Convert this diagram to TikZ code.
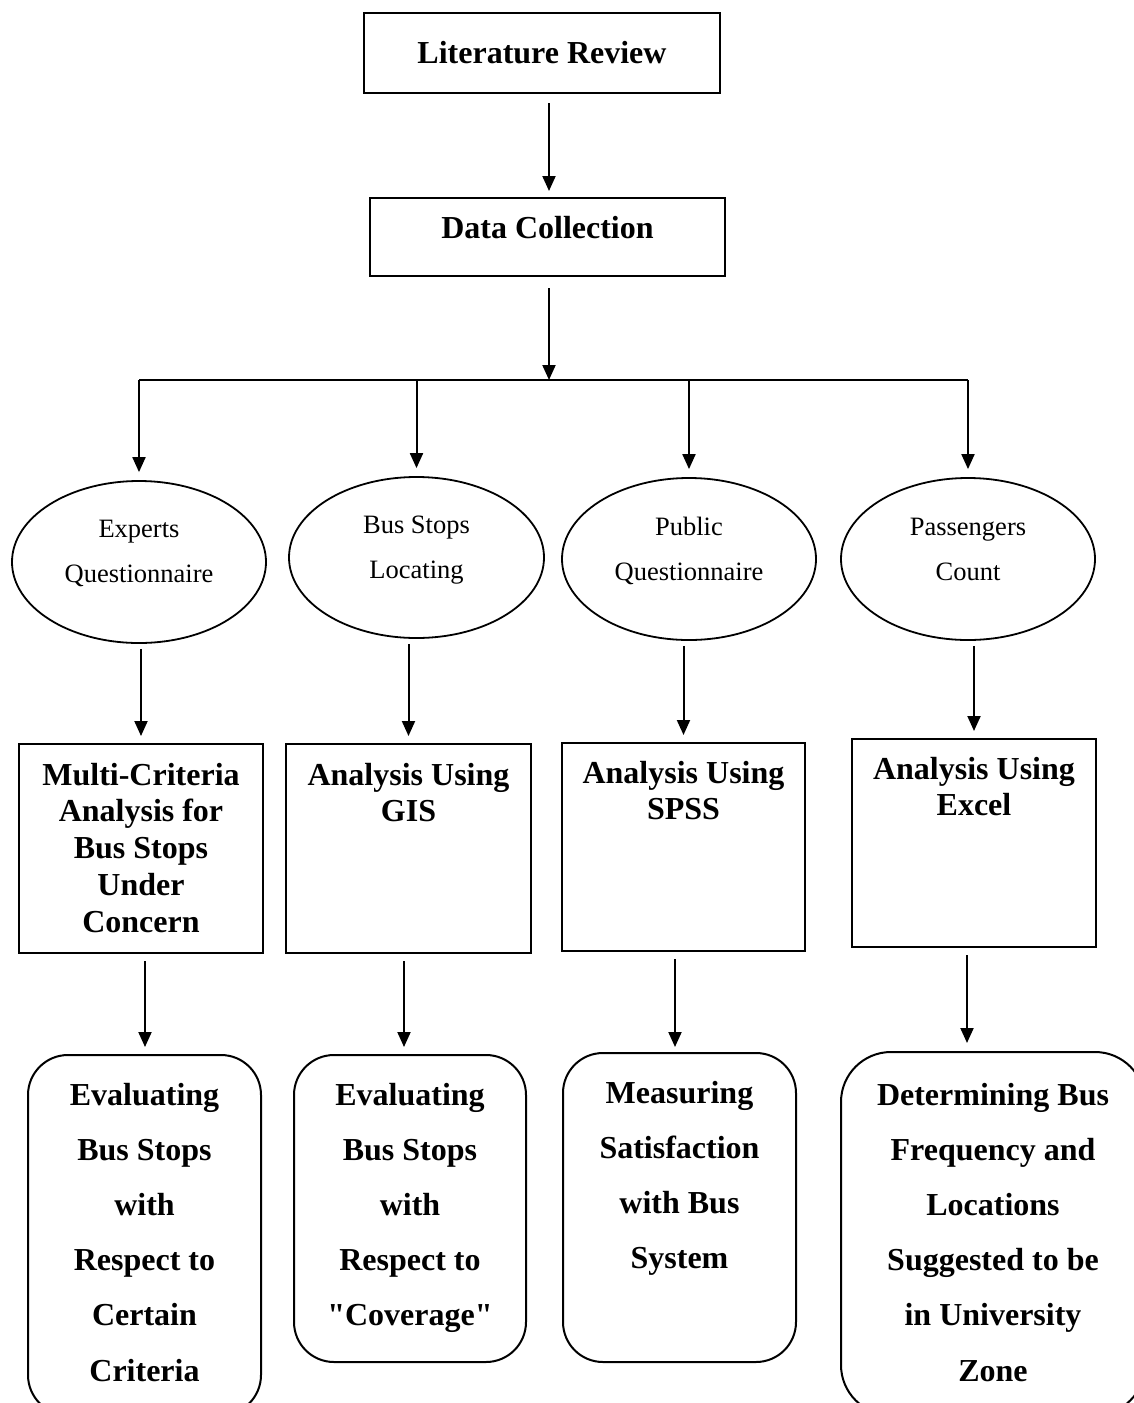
\documentclass[tikz,border=0pt]{standalone}
\usepackage{fontspec}
\setmainfont{Liberation Serif}[Ligatures=TeXOff]
\usetikzlibrary{arrows.meta,shapes.geometric,calc}
\newcommand\mytxt[3]{\raisebox{#1}[0pt][0pt]{\parbox[t]{#2}{\centering #3}}}
\begin{document}
\begin{tikzpicture}[x=1pt,y=-1pt,
  box/.style={draw, line width=2pt, inner sep=0pt, rectangle},
  rbox/.style={box, rounded corners=40pt},
  oval/.style={draw, ellipse, line width=1.8pt, inner sep=0pt, font=\fontsize{26.5}{45}\selectfont},
  big/.style={font=\fontsize{32}{36.75}\selectfont\bfseries},
  tall/.style={font=\fontsize{32}{55.2}\selectfont\bfseries},
  arr/.style={line width=2pt, -{Triangle[width=13pt,length=15pt]}}]

\fill[white] (0,0) rectangle (1134,1403);
\useasboundingbox (0,0) rectangle (1134,1403);

% top boxes
\node[box,big,minimum width=356pt,minimum height=80pt] (lr) at (542,53) {\mytxt{-10pt}{340pt}{Literature Review}};
\node[box,big,minimum width=355pt,minimum height=78pt] (dc) at (547.5,237) {\mytxt{-1pt}{340pt}{Data Collection}};

\coordinate (ax) at (549,0);
\coordinate (bus) at (549,380);
\draw[arr] ($(lr.south -| ax)+(0,9)$) -- ($(dc.north -| ax)+(0,-6)$);
\draw[arr] ($(dc.south -| ax)+(0,11)$) -- (bus);

% ellipses
\node[oval,minimum width=254pt,minimum height=162pt] (e1) at (139,562) {\mytxt{25pt}{170pt}{Experts\\Questionnaire}};
\node[oval,minimum width=255pt,minimum height=161pt] (e2) at (416.5,557.5) {\mytxt{24.5pt}{170pt}{Bus Stops\\Locating}};
\node[oval,minimum width=254pt,minimum height=162pt] (e3) at (689,559) {\mytxt{24pt}{170pt}{Public\\Questionnaire}};
\node[oval,minimum width=254pt,minimum height=162pt] (e4) at (968,559) {\mytxt{24pt}{170pt}{Passengers\\Count}};

\draw[line width=2pt] (e1.north |- bus) -- (e4.north |- bus);
\foreach \e in {e1,e2,e3,e4} \draw[arr] (\e.north |- bus) -- ($(\e.north)+(0,-8)$);

% analysis boxes
\node[box,big,minimum width=244pt,minimum height=209pt] (b1) at (141,848.5) {\mytxt{63.5pt}{236pt}{Multi-Criteria\\Analysis for\\Bus Stops\\Under\\Concern}};
\node[box,big,minimum width=245pt,minimum height=209pt] (b2) at (408.5,848.5) {\mytxt{63.5pt}{236pt}{Analysis Using\\GIS}};
\node[box,big,minimum width=243pt,minimum height=208pt] (b3) at (683.5,847) {\mytxt{64pt}{236pt}{Analysis Using\\SPSS}};
\node[box,big,minimum width=244pt,minimum height=208pt] (b4) at (974,843) {\mytxt{64pt}{236pt}{Analysis Using\\Excel}};

\draw[arr] ($(e1.south -| b1.north)+(0,5)$) -- ($(b1.north)+(0,-7)$);
\draw[arr] ($(e2.south -| b2.north)+(0,5)$) -- ($(b2.north)+(0,-7)$);
\draw[arr] ($(e3.south -| b3.north)+(0,5)$) -- ($(b3.north)+(0,-7)$);
\draw[arr] ($(e4.south -| b4.north)+(0,5)$) -- ($(b4.north)+(0,-7)$);

% result boxes
\node[rbox,tall,minimum width=233pt,minimum height=360pt] (r1) at (144.5,1235) {\mytxt{130pt}{225pt}{Evaluating\\Bus Stops\\with\\Respect to\\Certain\\Criteria}};
\node[rbox,tall,minimum width=232pt,minimum height=307pt] (r2) at (410,1208.5) {\mytxt{103.5pt}{225pt}{Evaluating\\Bus Stops\\with\\Respect to\\"Coverage"}};
\node[rbox,tall,minimum width=233pt,minimum height=309pt] (r3) at (679.5,1207.5) {\mytxt{104.5pt}{225pt}{Measuring\\Satisfaction\\with Bus\\System}};
\node[rbox,tall,rounded corners=50pt,minimum width=304pt,minimum height=363pt] (r4) at (993,1233.5) {\mytxt{128.5pt}{296pt}{Determining Bus\\Frequency and\\Locations\\Suggested to be\\in University\\Zone}};

\coordinate (x1) at (145,0);
\coordinate (x2) at (404,0);
\coordinate (x3) at (675,0);
\coordinate (x4) at (967,0);
\draw[arr] ($(b1.south -| x1)+(0,7)$) -- ($(r1.north -| x1)+(0,-7)$);
\draw[arr] ($(b2.south -| x2)+(0,7)$) -- ($(r2.north -| x2)+(0,-7)$);
\draw[arr] ($(b3.south -| x3)+(0,7)$) -- ($(r3.north -| x3)+(0,-5)$);
\draw[arr] ($(b4.south -| x4)+(0,7)$) -- ($(r4.north -| x4)+(0,-8)$);
\end{tikzpicture}
\end{document}
